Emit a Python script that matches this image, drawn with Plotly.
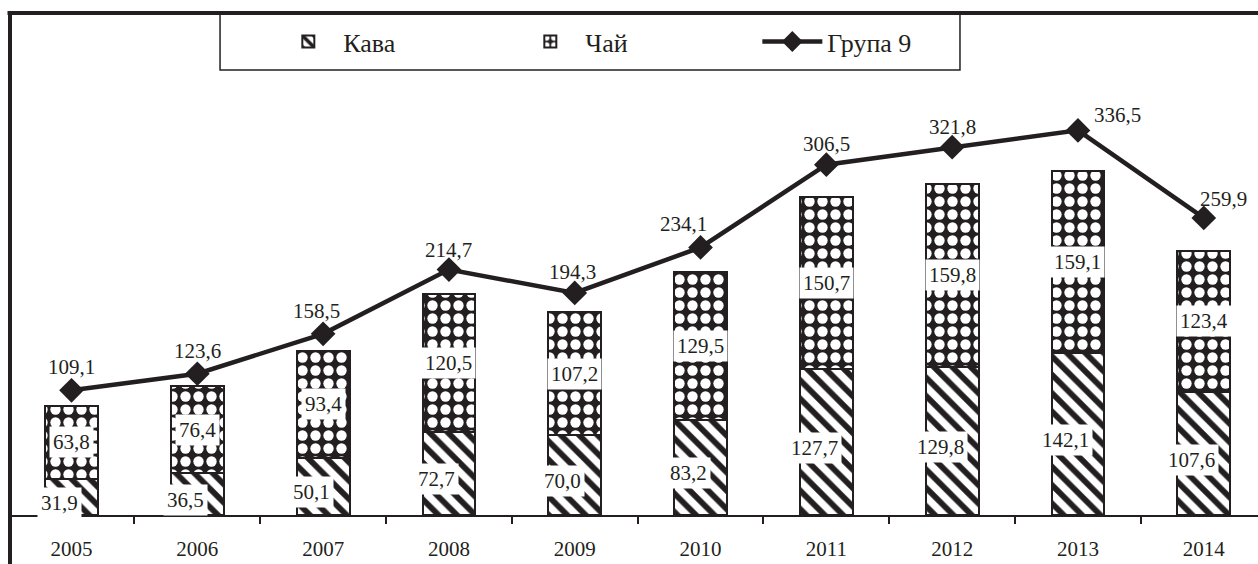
import plotly.graph_objects as go

# ---- data ----
years = ["2005", "2006", "2007", "2008", "2009", "2010", "2011", "2012", "2013", "2014"]
kava = [31.9, 36.5, 50.1, 72.7, 70.0, 83.2, 127.7, 129.8, 142.1, 107.6]
chai = [63.8, 76.4, 93.4, 120.5, 107.2, 129.5, 150.7, 159.8, 159.1, 123.4]
grupa9 = [109.1, 123.6, 158.5, 214.7, 194.3, 234.1, 306.5, 321.8, 336.5, 259.9]
series_names = ["Кава", "Чай", "Група 9"]

# ---- label placement (pixels) ----
line_lbl_dx = [0, 0, -7, 0, -2, -17, 0, 0, 40, 20]
line_lbl_dy = [23, 23, 23, 20, 21, 23, 21, 20, 15, 19]

INK = "#231f20"
FONT = "Liberation Serif, DejaVu Serif, serif"


def fmt(v):
    return f"{v:.1f}".replace(".", ",")


fig = go.Figure()

fig.add_trace(go.Bar(
    x=years, y=kava, name=series_names[0], width=0.42,
    marker=dict(color="white", line=dict(color=INK, width=2),
                pattern=dict(shape="\\", fgcolor=INK, bgcolor="white",
                             size=13, solidity=0.45, fillmode="replace")),
))
fig.add_trace(go.Bar(
    x=years, y=chai, name=series_names[1], width=0.42,
    marker=dict(color=INK, line=dict(color=INK, width=2),
                pattern=dict(shape=".", fgcolor="white", bgcolor=INK,
                             size=13, solidity=0.5, fillmode="replace")),
))
fig.add_trace(go.Scatter(
    x=years, y=grupa9, name=series_names[2], mode="lines+markers",
    line=dict(color=INK, width=4.5),
    marker=dict(symbol="diamond", size=19, color=INK),
))

ann = []
for i in range(len(years)):
    ann.append(dict(x=i, y=grupa9[i], text=fmt(grupa9[i]), showarrow=False,
                    xref="x", yref="y",
                    xshift=line_lbl_dx[i], yshift=line_lbl_dy[i],
                    font=dict(family=FONT, size=21, color=INK)))
    ann.append(dict(x=i, y=kava[i] + chai[i] / 2, text=fmt(chai[i]), showarrow=False,
                    xref="x", yref="y", bgcolor="white", borderpad=3,
                    font=dict(family=FONT, size=21, color=INK)))
    ann.append(dict(x=i, y=kava[i] / 2, text=fmt(kava[i]), showarrow=False,
                    xref="x", yref="y",
                    xshift=-12, yshift=-6, bgcolor="white", borderpad=3,
                    font=dict(family=FONT, size=21, color=INK)))

shapes = [
    # chart frame: left and top
    dict(type="line", xref="paper", yref="paper", x0=0, x1=0, y0=-0.11, y1=1.004,
         line=dict(color=INK, width=4)),
    dict(type="line", xref="paper", yref="paper", x0=-0.002, x1=1.01, y0=1, y1=1,
         line=dict(color=INK, width=4)),
    # legend box
    dict(type="rect", xref="paper", yref="paper", x0=0.1683, x1=0.7612, y0=0.8865, y1=1,
         line=dict(color=INK, width=1.5), fillcolor="white", layer="below"),
]

fig.update_layout(
    width=1258, height=564,
    margin=dict(l=10, r=0, t=13, b=49),
    paper_bgcolor="white", plot_bgcolor="white",
    font=dict(family=FONT, color=INK),
    barmode="stack", bargap=0.58,
    showlegend=True,
    legend=dict(orientation="h", x=0.211, xanchor="left", y=0.943, yanchor="middle",
                traceorder="normal", entrywidth=167, entrywidthmode="pixels",
                itemwidth=60,
                font=dict(family=FONT, size=26, color=INK),
                bgcolor="rgba(0,0,0,0)", borderwidth=0),
    annotations=ann,
    shapes=shapes,
    xaxis=dict(type="category", range=[-0.489, 9.431], showgrid=False,
               showline=True, linecolor=INK, linewidth=2,
               ticks="outside", tickson="boundaries", ticklen=7, tickwidth=2,
               tickcolor=INK, ticklabelstandoff=14,
               tickfont=dict(family=FONT, size=21, color=INK)),
    yaxis=dict(range=[0, 439.2], showgrid=False, showline=False, zeroline=False,
               showticklabels=False, ticks=""),
)

fig.write_html("out.html", config={"displayModeBar": False},
               post_script="document.body.style.margin='0px';document.body.style.overflow='hidden';")
